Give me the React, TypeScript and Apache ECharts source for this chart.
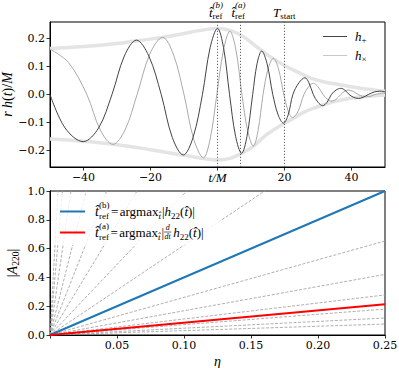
import React, { useEffect, useRef } from "react";
import * as echarts from "echarts";

// ---------- top panel: waveform (t in units of M) ----------
const hPlusT = [-50, -45.5, -40.1, -35.5, -31.5, -27.8, -24.2, -20.5, -16.8, -13.5, -10.2, -7.3, -4.5, -2.2, 0, 1.8, 3.6, 5.4, 7.2, 8.8, 10.5, 11.8, 13.2, 14.8, 16.5, 18.1, 19.7, 21.1, 22.5, 24.3, 26.1, 27.3, 28.6, 30, 31.4, 32.7, 34, 35.4, 36.8, 38, 39.3, 40.6, 42, 43.5, 45, 46.8, 48.5, 50];
const hPlusV = [0, -0.12, -0.169, -0.12, 0, 0.138, 0.195, 0.138, 0, -0.154, -0.217, -0.154, 0, 0.168, 0.237, 0.168, 0, -0.15, -0.211, -0.15, 0, 0.11, 0.156, 0.11, 0, -0.073, -0.103, -0.073, 0, 0.042, 0.06, 0.042, 0, -0.028, -0.04, -0.028, 0, 0.016, 0.022, 0.016, 0, -0.01, -0.014, -0.01, 0, 0.009, 0.012, 0.01];
const hCrossT = [-50, -44.5, -39, -35, -31.2, -27.6, -24, -20.2, -16.4, -13.2, -10, -7.1, -4.2, -2.2, -0.2, 1.8, 3.7, 5.5, 7.3, 9, 10.7, 12.1, 13.6, 15.1, 16.7, 18.2, 19.8, 21.1, 22.4, 24.1, 25.8, 27.2, 28.6, 30, 31.5, 32.8, 34.1, 35.4, 36.8, 37.9, 39, 40.5, 42, 43.2, 44.5, 45.8, 47, 50];
const hCrossV = [0.163, 0.115, 0, -0.127, -0.179, -0.127, 0, 0.145, 0.205, 0.145, 0, -0.16, -0.227, -0.16, 0, 0.16, 0.227, 0.16, 0, -0.13, -0.185, -0.13, 0, 0.092, 0.13, 0.092, 0, -0.059, -0.083, -0.059, 0, 0.028, 0.04, 0.028, 0, -0.017, -0.024, -0.017, 0, 0.011, 0.016, 0.011, 0, -0.006, -0.008, -0.006, 0, 0.006];
const envUpT = [-50, -40, -30, -24, -16, -10, -5, 0, 4, 8, 12, 16, 20, 24, 28, 32, 36, 40, 45, 50];
const envUpV = [0.165, 0.172, 0.183, 0.193, 0.205, 0.219, 0.23, 0.237, 0.229, 0.205, 0.168, 0.133, 0.104, 0.08, 0.058, 0.045, 0.036, 0.028, 0.019, 0.012];
const envLoT = [-50, -40, -30, -20, -10, -4, 0, 4, 7, 10.7, 14, 17, 20, 23, 26, 30, 34, 38, 42, 46, 50];
const envLoV = [-0.16, -0.168, -0.18, -0.198, -0.218, -0.23, -0.235, -0.228, -0.212, -0.186, -0.15, -0.125, -0.103, -0.083, -0.062, -0.044, -0.028, -0.017, -0.01, -0.005, -0.002];
const refTimes = [0, 6.7, 20];
const refNames = ["(b)", "(a)", "start"];
const topXTicks = [-40, -20, 0, 20, 40];
const topXLabels = [-40, -20, 20, 40];
const topYTicks = [-0.2, -0.1, 0, 0.1, 0.2];

// ---------- bottom panel: |A220| vs eta ----------
const etaTicks = [0, 0.05, 0.1, 0.15, 0.2, 0.25];
const etaLabels = [0.05, 0.1, 0.15, 0.2, 0.25];
const ampTicks = [0, 0.2, 0.4, 0.6, 0.8, 1.0];
const etaEnd = 0.25;
const fanEndValues = [42, 27, 16, 9.25, 5.9, 3.85, 2.45, 1.56, 0.653, 0.421, 0.278, 0.18, 0.118, 0.076];
const blueEnd = 1.0;
const redEnd = 0.213;

const MATH = "'Liberation Serif', 'Times New Roman', serif";
const TICK = "'DejaVu Serif', serif";

type Seg = { t?: string; s?: number; it?: boolean; dy?: number; gap?: number; stack?: Seg[]; frac?: [string, string] };

function layout(x0: number, y0: number, segs: Seg[], ctx: CanvasRenderingContext2D) {
  const out: any[] = [];
  let x = x0;
  const mk = (t: string, s: number, it: boolean, xx: number, yy: number, align = "left") => ({
    type: "text",
    x: xx,
    y: yy,
    silent: true,
    style: { text: t, fontSize: s, fontFamily: MATH, fontStyle: it ? "italic" : "normal", fill: "#000", align, verticalAlign: "middle" },
  });
  const w = (t: string, s: number, it: boolean) => {
    ctx.font = `${it ? "italic " : ""}${s}px ${MATH}`;
    return ctx.measureText(t).width;
  };
  for (const g of segs) {
    x += g.gap ?? 0;
    if (g.stack) {
      let mw = 0;
      for (const k of g.stack) {
        out.push(mk(k.t!, k.s ?? 12, !!k.it, x, y0 + (k.dy ?? 0)));
        mw = Math.max(mw, w(k.t!, k.s ?? 12, !!k.it));
      }
      x += mw;
    } else if (g.frac) {
      const s = g.s ?? 8;
      const mw = Math.max(w(g.frac[0], s, true), w(g.frac[1], s, true)) + 1;
      out.push(mk(g.frac[0], s, true, x + mw / 2, y0 - 4.5, "center"));
      out.push(mk(g.frac[1], s, true, x + mw / 2, y0 + 4.5, "center"));
      out.push({ type: "line", silent: true, shape: { x1: x, y1: y0, x2: x + mw, y2: y0 }, style: { stroke: "#000", lineWidth: 0.6 } });
      x += mw;
    } else {
      const s = g.s ?? 12;
      out.push(mk(g.t!, s, !!g.it, x, y0 + (g.dy ?? 0)));
      x += w(g.t!, s, !!g.it);
    }
  }
  return out;
}

export default function App() {
  const ref = useRef<HTMLDivElement>(null);
  useEffect(() => {
    document.body.style.margin = "0";
    const chart = echarts.init(ref.current!, undefined, { renderer: "svg" });
    const axisCommon = {
      axisLine: { show: true, onZero: false, lineStyle: { color: "#000", width: 1 } },
      axisTick: { show: true, inside: false, length: 3.5, lineStyle: { color: "#000", width: 0.8 } },
      splitLine: { show: false },
      nameMoveOverlap: false,
    };
    const labelStyle = { color: "#000", fontFamily: TICK, fontSize: 11 };
    const pairs = (a: number[], b: number[]) => a.map((t, i) => [t, b[i]]);
    const option: any = {
      animation: false,
      backgroundColor: "#fff",
      grid: [
        { left: 50, top: 22, width: 335, height: 145, show: true, borderColor: "#000", borderWidth: 1, containLabel: false, outerBoundsMode: "none" },
        { left: 50, top: 191, width: 335, height: 144, show: true, borderColor: "#000", borderWidth: 1, containLabel: false, outerBoundsMode: "none" },
      ],
      xAxis: [
        {
          gridIndex: 0, type: "value", min: -50, max: 50, ...axisCommon,
          axisTick: { ...axisCommon.axisTick, customValues: topXTicks },
          axisLabel: { ...labelStyle, margin: 5, customValues: topXLabels, formatter: (v: number) => (v < 0 ? "\u2212" + Math.abs(v) : String(v)) },
          name: "t/M", nameLocation: "middle", nameGap: 4,
          nameTextStyle: { fontFamily: MATH, fontStyle: "italic", fontSize: 13, color: "#000", verticalAlign: "top" },
        },
        {
          gridIndex: 1, type: "value", min: 0, max: etaEnd, ...axisCommon,
          axisTick: { ...axisCommon.axisTick, customValues: etaTicks },
          axisLabel: { ...labelStyle, margin: 5, customValues: etaLabels, formatter: (v: number) => v.toFixed(2) },
          name: "η", nameLocation: "middle", nameGap: 19,
          nameTextStyle: { fontFamily: MATH, fontStyle: "italic", fontSize: 14, color: "#000", verticalAlign: "top" },
        },
      ],
      yAxis: [
        {
          gridIndex: 0, type: "value", min: -0.26, max: 0.26, ...axisCommon,
          axisTick: { ...axisCommon.axisTick, customValues: topYTicks },
          axisLabel: { ...labelStyle, margin: 5, customValues: topYTicks, formatter: (v: number) => (v < -1e-9 ? "\u2212" + Math.abs(v).toFixed(1) : Math.abs(v).toFixed(1)) },
          name: "{i|r h}{n|(}{i|t}{n|)/}{i|M}", nameLocation: "middle", nameGap: 36, nameRotate: 90,
          nameTextStyle: { rich: { i: { fontFamily: MATH, fontStyle: "italic", fontSize: 14, color: "#000" }, n: { fontFamily: MATH, fontSize: 14, color: "#000" } } },
        },
        {
          gridIndex: 1, type: "value", min: 0, max: 1, interval: 0.2, ...axisCommon,
          axisTick: { ...axisCommon.axisTick, customValues: ampTicks },
          axisLabel: { ...labelStyle, margin: 5, customValues: ampTicks, formatter: (v: number) => v.toFixed(1) },
          name: "{n||}{i|A}{s|220}{n||}", nameLocation: "middle", nameGap: 29, nameRotate: 90,
          nameTextStyle: {
            rich: {
              i: { fontFamily: MATH, fontStyle: "italic", fontSize: 14, color: "#000", lineHeight: 18 },
              n: { fontFamily: MATH, fontSize: 14, color: "#000", lineHeight: 18 },
              s: { fontFamily: MATH, fontSize: 9.5, color: "#000", lineHeight: 10, verticalAlign: "bottom" },
            },
          },
        },
      ],
      series: [
        { type: "line", xAxisIndex: 0, yAxisIndex: 0, data: pairs(envUpT, envUpV), smooth: 0.4, symbol: "none", lineStyle: { color: "#e4e4e4", width: 3.5 }, silent: true, z: 1 },
        { type: "line", xAxisIndex: 0, yAxisIndex: 0, data: pairs(envLoT, envLoV), smooth: 0.4, symbol: "none", lineStyle: { color: "#e4e4e4", width: 3.5 }, silent: true, z: 1 },
        { type: "line", xAxisIndex: 0, yAxisIndex: 0, data: pairs(hCrossT, hCrossV), smooth: 0.35, symbol: "none", lineStyle: { color: "#aaaaaa", width: 1 }, silent: true, z: 2 },
        {
          type: "line", xAxisIndex: 0, yAxisIndex: 0, data: pairs(hPlusT, hPlusV), smooth: 0.35, symbol: "none", lineStyle: { color: "#444444", width: 1 }, silent: true, z: 3,
          markLine: { silent: true, symbol: ["none", "none"], label: { show: false }, lineStyle: { color: "#555", width: 0.9, type: [1.2, 1.8] }, data: refTimes.map((t) => ({ xAxis: t })) },
        },
        ...fanEndValues.map((v) => ({
          type: "line", xAxisIndex: 1, yAxisIndex: 1, data: [[0, 0], [etaEnd, v]], symbol: "none", silent: true, z: 1,
          lineStyle: { color: "#9a9a9a", width: 0.8, type: [3, 1.6] },
        })),
        { type: "line", xAxisIndex: 1, yAxisIndex: 1, data: [[0, 0], [etaEnd, blueEnd]], symbol: "none", silent: true, z: 3, lineStyle: { color: "#1f77b4", width: 2 } },
        { type: "line", xAxisIndex: 1, yAxisIndex: 1, data: [[0, 0], [etaEnd, redEnd]], symbol: "none", silent: true, z: 3, lineStyle: { color: "#ff0000", width: 2 } },
      ],
    };
    chart.setOption(option);

    const ctx = document.createElement("canvas").getContext("2d")!;
    const g: any[] = [];
    // labels above the dotted reference lines
    refTimes.forEach((t, i) => {
      const px = chart.convertToPixel({ xAxisIndex: 0 }, t) as number;
      if (refNames[i] === "start") {
        g.push(...layout(px - 11.6, 12, [{ t: "T", it: true, s: 13 }, { t: "start", s: 9, dy: 4 }], ctx));
      } else {
        g.push(...layout(px - 8.5, 12, [{ t: "t\u0302", it: true, s: 13 }, { stack: [{ t: refNames[i], s: 9, it: true, dy: -7 }, { t: "ref", s: 9, dy: 4 }] }], ctx));
      }
    });
    // top legend
    g.push({ type: "line", silent: true, shape: { x1: 323, y1: 36.5, x2: 347, y2: 36.5 }, style: { stroke: "#444", lineWidth: 1 } });
    g.push({ type: "line", silent: true, shape: { x1: 323, y1: 55.5, x2: 347, y2: 55.5 }, style: { stroke: "#c8c8c8", lineWidth: 1 } });
    g.push(...layout(355, 36, [{ t: "h", it: true, s: 13 }, { t: "+", s: 9, dy: 4 }], ctx));
    g.push(...layout(355, 55, [{ t: "h", it: true, s: 13 }, { t: "×", s: 9, dy: 4 }], ctx));
    // bottom legend
    g.push({ type: "rect", silent: true, shape: { x: 53, y: 195, width: 168, height: 50, r: 2 }, style: { fill: "rgba(255,255,255,0.8)" }, z: 10 });
    g.push({ type: "line", silent: true, shape: { x1: 60, y1: 211.5, x2: 85, y2: 211.5 }, style: { stroke: "#1f77b4", lineWidth: 2 }, z: 11 });
    g.push({ type: "line", silent: true, shape: { x1: 60, y1: 232.5, x2: 85, y2: 232.5 }, style: { stroke: "#ff0000", lineWidth: 2 }, z: 11 });
    const head = (sup: string): Seg[] => [
      { t: "t\u0302", it: true, s: 14 },
      { stack: [{ t: sup, s: 9, dy: -6 }, { t: "ref", s: 9, dy: 4.5 }] },
      { t: "=", s: 13, gap: 1.5 },
      { t: "argmax", s: 13, gap: 1.5 },
      { t: "t\u0302", it: true, s: 9, dy: 4.5 },
    ];
    const tail: Seg[] = [{ t: "h", it: true, s: 13 }, { t: "22", s: 9, dy: 4.5 }, { t: "(", s: 13 }, { t: "t\u0302", it: true, s: 13 }, { t: ")|", s: 13 }];
    const row1 = layout(95, 211, [...head("(b)"), { t: "|", s: 13, gap: 1 }, ...tail], ctx);
    const row2 = layout(95, 232, [...head("(a)"), { t: "|", s: 13, gap: 1 }, { frac: ["d", "dt"], s: 8 }, { t: "", s: 12, gap: 2 }, ...tail], ctx);
    [...row1, ...row2].forEach((e) => { e.z = 11; g.push(e); });
    chart.setOption({ graphic: g });

    return () => chart.dispose();
  }, []);
  return <div ref={ref} style={{ width: 399, height: 368 }} />;
}
